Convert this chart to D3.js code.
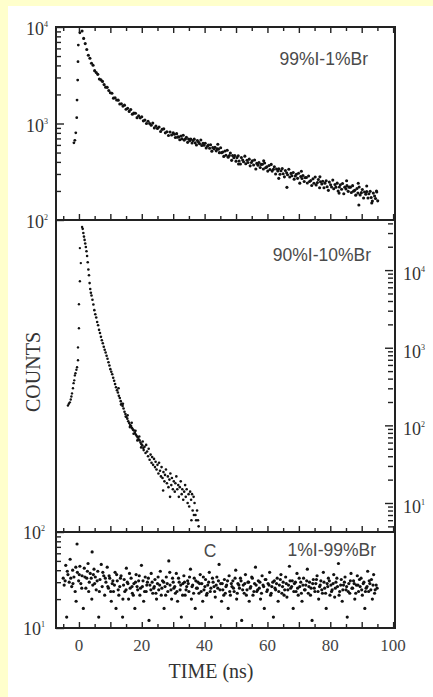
<!DOCTYPE html>
<html><head><meta charset="utf-8">
<script src="https://cdn.jsdelivr.net/npm/d3@7"></script>
<style>body{margin:0;background:#fff}svg{display:block}</style>
</head><body>
<svg id="c" width="433" height="697"></svg>
<script>
// ---------- data ----------
const xTickLabels = [0, 20, 40, 60, 80, 100];
const panelLabels = ["99%I-1%Br", "90%I-10%Br", "1%I-99%Br"];
const panel3Letter = "C";
const p1Exps = [4, 3, 2];
const p2Exps = [4, 3, 2, 1];
const p3Exps = [2, 1];

// panel 1 (99%I-1%Br): rising edge + decay [time ns, counts]
const p1Rise = [[-1.6,630],[-1.3,670],[-1.0,800],[-0.7,1150],[-0.6,1750],[-0.4,2820],[-0.3,4370],[-0.2,6500],[0.3,8700]];
const p1Decay = [
[1.0,9090],[1.5,7620],[2.0,6730],[2.5,5850],[3.0,5100],[3.5,4750],[4.0,4210],[4.5,4020],[5.0,3530],[5.5,3380],
[6.0,3230],[6.5,2890],[7.0,2830],[7.5,2730],[8.0,2530],[8.5,2380],[9.0,2370],[9.5,2200],[10.0,2080],[10.5,2060],
[11.0,1830],[11.5,1850],[12.0,1750],[12.5,1745],[13.0,1590],[13.5,1600],[14.0,1515],[14.5,1550],[15.0,1405],[15.5,1435],
[16.0,1335],[16.5,1395],[17.0,1250],[17.5,1280],[18.0,1275],[18.5,1150],[19.0,1205],[19.5,1145],[20.0,1175],[20.5,1065],
[21.0,1085],[21.5,1000],[22.0,1055],[22.5,1000],[23.0,960],[23.5,1010],[24.0,900],[24.5,940],[25.0,890],[25.5,920],
[26.0,825],[26.5,870],[27.0,880],[27.5,800],[28.0,820],[28.5,750],[29.0,815],[29.5,760],[30.0,800],
[30.4,773],[30.7,715],[31.1,785],[31.4,722],[31.8,729],[32.1,678],[32.5,742],[32.8,693],[33.2,756],[33.5,673],
[33.9,691],[34.2,721],[34.6,638],[34.9,690],[35.3,665],[35.6,689],[36.0,628],[36.3,665],[36.7,688],[37.0,630],
[37.4,598],[37.7,667],[38.1,638],[38.4,617],[38.8,675],[39.1,592],[39.5,623],[39.8,596],[40.2,625],[40.5,557],
[40.9,582],[41.2,597],[41.6,555],[41.9,602],[42.3,517],[42.6,564],[43.0,546],[43.3,568],[43.7,521],[44.0,546],
[44.4,542],[44.7,499],[45.1,560],[45.4,499],[45.8,507],[46.1,456],[46.5,518],[46.8,469],[47.2,529],[47.5,448],
[47.9,466],[48.2,494],[48.6,415],[48.9,465],[49.3,442],[49.6,465],[50.0,407],[50.3,443],[50.7,464],[51.0,409],
[51.4,380],[51.7,444],[52.1,419],[52.4,401],[52.8,459],[53.1,383],[53.5,416],[53.8,394],[54.2,427],[54.5,364],
[54.9,394],[55.2,411],[55.6,372],[55.9,419],[56.3,338],[56.6,386],[57.0,370],[57.3,394],[57.7,350],[58.0,377],
[58.4,378],[58.7,338],[59.1,389],[59.4,348],[59.8,355],[60.1,321],[60.5,367],[60.8,334],[61.2,377],[61.5,321],
[61.9,335],[62.2,356],[62.6,300],[62.9,338],[63.3,322],[63.6,339],[64.0,298],[64.3,324],[64.7,341],[65.0,301],
[65.4,280],[65.7,326],[66.1,308],[66.4,294],[66.8,336],[67.1,279],[67.5,304],[67.8,287],[68.2,311],[68.5,265],
[68.9,286],[69.2,298],[69.6,270],[69.9,305],[70.3,241],[70.6,282],[71.0,269],[71.3,289],[71.7,251],[72.0,275],
[72.4,276],[72.7,242],[73.1,286],[73.4,251],[73.8,257],[74.1,228],[74.5,268],[74.8,240],[75.2,279],[75.5,231],
[75.9,244],[76.2,263],[76.6,216],[76.9,249],[77.3,236],[77.6,252],[78.0,216],[78.3,241],[78.7,255],[79.0,221],
[79.4,203],[79.7,247],[80.1,232],[80.4,220],[80.8,259],[81.1,211],[81.5,233],[81.8,219],[82.2,241],[82.5,200],
[82.9,220],[83.2,232],[83.6,208],[83.9,239],[84.3,187],[84.6,219],[85.0,210],[85.3,227],[85.7,198],[86.0,219],
[86.4,219],[86.7,193],[87.1,227],[87.4,199],[87.8,203],[88.1,181],[88.5,212],[88.8,190],[89.2,220],[89.5,182],
[89.9,192],[90.2,207],[90.6,169],[90.9,195],[91.3,185],[91.6,197],[92.0,169],[92.3,187],[92.7,198],[93.0,171],
[93.4,157],[93.7,190],[94.1,177],[94.4,167],[94.8,195],[95.1,158],
[44.2,610],[50.8,380],[58.8,410],[63.6,270],[66.2,218],[70.8,320],[76.7,280],[82.8,190],[85.2,255],
[88.9,240],[89.1,143],[91.6,225],[93.2,150],[94.7,200]
];

// panel 2 (90%I-10%Br): rising edge + decay [time ns, counts]
const p2Rise = [[-3.5,180],[-3.2,190],[-2.9,198],[-2.6,215],[-2.4,235],[-2.2,258],[-1.9,300],[-1.7,350],[-1.5,380],
[-1.3,440],[-1.1,470],[-0.8,520],[-0.6,560],[-0.3,690],[-0.3,1010],[0.0,1780],[0.0,3630],[0.3,7200],[0.6,12300],[0.3,19200],[1.0,35900]];
const p2Decay = [
[1.2,34000],[1.4,30000],[1.6,27000],[1.8,24500],[2.0,22000],[2.2,19800],[2.4,17500],[2.6,15200],[2.8,12600],[3.0,10200],
[3.2,8600],[3.4,6800],[3.6,5700],[3.8,5100],[4.0,4700],[4.3,4150],[4.6,3600],[4.9,3050],[5.2,2700],[5.5,2450],
[5.8,2150],[6.1,1950],[6.4,1700],[6.7,1550],[7.0,1380],[7.3,1250],[7.6,1140],[7.9,1030],[8.2,940],[8.5,870],
[8.8,790],[9.1,720],[9.4,650],[9.7,590],[10.0,530],[10.3,490],[10.6,455],[10.9,410],[11.2,375],[11.5,340],
[11.8,310],[12.1,283],[12.4,265],[12.7,240],[13.0,225],[13.3,205],[13.6,190],[13.9,178],[14.2,165],[14.5,150],
[14.8,140],[15.1,128],[15.4,122],[15.7,113],[16.0,107],[16.3,101],[16.6,98],[16.9,92],[17.2,88],[17.5,86],
[17.8,80],[18.1,76],[18.4,73],[18.7,70],[19.0,66],[19.3,64],[19.6,60],[19.9,57],[20.2,55],[20.5,51],
[12.6,300],[13.4,185],[14.0,190],[14.9,130],[15.5,135],[16.2,95],[16.8,108],[17.4,78],[18.0,85],[18.6,64],[19.2,72],[19.8,52],
[20.3,62],[20.6,48],[20.9,53],[21.2,44],[21.4,56],[21.7,46],[22.0,40],[22.2,50],[22.5,36],[22.8,42],
[23.1,33],[23.3,39],[23.6,31],[23.9,37],[24.2,29],[24.4,34],[24.7,27],[25.0,31],[25.3,24],[25.5,33],
[25.8,26],[26.1,22],[26.3,29],[26.6,21],[26.9,25],[27.2,19],[27.4,23],[27.7,27],[28.0,18],[28.3,22],
[28.5,16],[28.8,20],[29.1,24],[29.4,17],[29.6,21],[29.9,15],[30.2,19],[30.5,14],[30.7,18],[31.0,22],
[31.3,15],[31.6,17],[31.8,12],[32.1,16],[32.4,19],[32.7,13],[32.9,15],[33.2,11],[33.5,14],[33.8,17],
[34.0,12],[34.3,15],[34.6,10],[34.9,13],[35.1,9],[35.4,14],[35.7,11],[36.0,13],[36.2,8],[36.5,12],
[36.8,10],[37.1,7],[37.3,6],[37.6,8],[37.9,6],[38.1,5],[36.6,7],[35.8,6],[26.8,14.5],[29.0,12]
];

// panel 3 (1%I-99%Br): [time ns, counts]
const p3Data = [
[-5.0,33],[-4.7,28],[-4.2,45],[-3.9,13],[-3.5,36],[-3.1,30],[-2.8,52],[-2.3,27],[-2.0,40],[-1.6,34],
[-1.2,24],[-0.9,19],[-0.5,38],[-0.1,31],[0.3,44],[0.6,29],[1.0,35],[1.4,16],[1.7,42],[2.2,26],
[2.5,33],[2.9,47],[3.3,30],[3.6,37],[4.1,20],[4.4,28],[4.8,41],[5.2,34],[5.5,25],[6.0,39],
[6.3,13],[6.7,32],[7.1,46],[7.4,27],[7.9,35],[8.2,22],[8.6,30],[9.0,43],[-0.6,75],[4.2,62],
[9.4,26],[9.8,33],[10.3,19],[10.6,29],[11.0,24],[11.5,38],[11.8,16],[12.2,31],[12.7,22],[13.0,27],
[13.4,35],[13.9,13],[14.2,28],[14.6,24],[15.1,42],[15.4,30],[15.8,20],[16.3,26],[16.6,33],[17.0,23],
[17.5,29],[17.8,16],[18.2,36],[18.7,25],[19.0,31],[19.4,22],[19.9,45],[20.2,27],[20.6,19],[21.1,34],
[21.4,24],[21.8,30],[22.3,12],[22.6,28],[23.0,37],[23.5,23],[23.8,26],[24.2,32],[24.7,20],[25.0,29],
[25.4,25],[25.9,39],[26.2,22],[26.6,31],[27.1,16],[27.4,27],[27.8,34],[28.3,24],[28.6,50],[29.0,28],
[29.5,20],[29.8,33],[30.2,26],[30.7,23],[31.0,37],[31.4,19],[31.9,30],[32.2,25],[32.6,13],[33.1,29],
[33.4,35],[33.8,22],[34.3,27],[34.6,31],[35.0,24],[35.5,41],[35.8,20],[36.2,28],[36.7,33],[37.0,16],
[37.4,26],[37.9,30],[38.2,23],[38.6,36],[39.1,29],[39.4,19],[39.8,25],[40.3,32],[40.6,22],[41.0,28],
[41.5,38],[41.8,24],[42.2,13],[42.7,30],[43.0,27],[43.4,21],[43.9,34],[44.2,26],[44.6,46],[45.1,29],
[45.4,19],[45.8,25],[46.3,32],[46.6,23],[47.0,28],[47.5,16],[47.8,35],[48.2,22],[48.7,27],[49.0,31],
[49.4,24],[49.9,40],[50.2,20],[50.6,29],[51.1,26],[51.4,33],[51.8,12],[52.3,28],[52.6,23],[53.0,36],
[53.5,25],[53.8,30],[54.2,19],[54.7,27],[55.0,34],[55.4,22],[55.9,29],[56.2,43],[56.6,24],[57.1,31],
[57.4,26],[57.8,20],[58.3,35],[58.6,28],[59.0,16],[59.5,32],[59.8,24],[60.2,29],[60.7,38],[61.0,22],
[61.4,27],[61.9,13],[62.2,31],[62.6,25],[63.1,33],[63.4,19],[63.8,28],[64.3,36],[64.6,23],[65.0,30],
[65.5,25],[65.8,34],[66.2,21],[66.7,28],[67.0,44],[67.4,26],[67.9,31],[68.2,16],[68.6,29],[69.1,24],
[69.4,37],[69.8,22],[70.3,27],[70.6,30],[71.0,19],[71.5,33],[71.8,25],[72.2,28],[72.7,41],[73.0,23],
[73.4,30],[73.9,26],[74.2,12],[74.6,32],[75.1,24],[75.4,29],[75.8,35],[76.3,20],[76.6,27],[77.0,31],
[77.5,23],[77.8,38],[78.2,26],[78.7,16],[79.0,29],[79.4,33],[79.9,22],[80.2,28],[80.6,25],[81.1,36],
[81.4,21],[81.8,30],[82.3,27],[82.6,47],[83.0,24],[83.5,32],[83.8,19],[84.2,28],[84.7,34],[85.0,25],
[85.4,13],[85.9,29],[86.2,23],[86.6,37],[87.1,26],[87.4,31],[87.8,20],[88.3,28],[88.6,35],[89.0,24],
[89.5,27],[89.8,33],[90.2,22],[90.7,30],[91.0,16],[91.4,26],[91.9,39],[92.2,24],[92.6,29],[93.1,32],
[93.4,20],[93.8,36],[94.3,25],[94.6,28]
];
const p3Extra = [
[-4.4,31],[-3.7,39],[-2.6,33],[-1.9,29],[-1.0,43],[0.1,36],[0.9,26],[1.9,34],[2.7,39],[3.1,24],
[3.9,33],[4.6,36],[5.0,29],[5.8,31],[6.5,24],[7.6,38],[8.4,33],[9.2,27],[9.6,35],[10.1,24],
[10.8,31],[11.3,28],[12.0,36],[12.5,25],[13.2,33],[14.0,20],[14.4,32],[15.0,25],[15.6,29],[16.1,37],
[16.9,27],[17.3,22],[18.0,30],[18.5,27],[19.2,35],[19.6,26],[20.4,31],[20.9,24],[21.6,28],[22.1,33],
[22.9,25],[23.3,30],[24.0,27],[24.5,23],[25.2,34],[25.7,28],[26.4,26],[27.0,30],[27.6,22],[28.1,29],
[28.9,38],[29.3,25],[30.0,30],[30.5,27],[31.2,24],[31.7,33],[32.4,28],[33.0,22],[33.6,30],[34.1,25],
[34.8,29],[35.2,34],[36.0,27],[36.5,23],[37.2,31],[37.7,26],[38.4,29],[38.9,24],[39.6,34],[40.1,27],
[40.8,23],[41.3,30],[42.0,26],[42.5,33],[43.2,24],[43.7,28],[44.4,31],[44.9,25],[45.6,29],[46.1,22],
[46.8,27],[47.3,31],[48.0,24],[48.5,29],[49.2,26],[49.7,33],[50.4,23],[50.9,28],[51.6,31],[52.1,25],
[52.8,29],[53.3,22],[54.0,30],[54.5,26],[55.2,33],[55.7,24],[56.4,28],[56.9,25],[57.6,30],[58.1,23],
[58.8,27],[59.3,32],[60.0,25],[60.5,28],[61.2,23],[61.7,30],[62.4,26],[62.9,29],[63.6,24],[64.1,32],
[64.8,27],[65.3,22],[66.0,29],[66.5,25],[67.2,31],[67.7,27],[68.4,24],[68.9,30],[69.6,26],[70.1,33],
[70.8,23],[71.3,28],[72.0,25],[72.5,31],[73.2,27],[73.7,22],[74.4,29],[74.9,26],[75.6,32],[76.1,24],
[76.8,28],[77.3,25],[78.0,30],[78.5,23],[79.2,27],[79.7,31],[80.4,24],[80.9,29],[81.6,26],[82.1,33],
[82.8,22],[83.3,28],[84.0,25],[84.5,30],[85.2,27],[85.7,24],[86.4,31],[86.9,26],[87.6,29],[88.1,23],
[88.8,28],[89.3,32],[90.0,25],[90.5,29],[91.2,24],[91.7,27],[92.4,31],[92.9,25],[93.6,28],[94.1,23],[94.9,26]
];

// ---------- drawing ----------
const svg = d3.select("#c");
svg.append("rect").attr("width", 433).attr("height", 697).attr("fill", "#ffffcc");
svg.append("rect").attr("x", 8).attr("y", 6).attr("width", 425).attr("height", 691).attr("fill", "#fff");

const L = 56, R = 395;
const x = d3.scaleLinear().domain([-7.3, 100.6]).range([L, R]);
const y1 = d3.scaleLog().domain([100, 10000]).range([220, 27]);
const y2 = d3.scaleLog().domain([4.23, 44200]).range([532, 220]);
const y3 = d3.scaleLog().domain([10, 100]).range([628, 532]);

const xMinor = d3.range(-5, 101, 5).filter(v => v % 10 !== 0);
const xMajor = d3.range(0, 101, 10);

function logMinors(scale) {
  const [a, b] = scale.domain();
  const out = [];
  for (let e = Math.floor(Math.log10(a)); e <= Math.ceil(Math.log10(b)); e++)
    for (let m = 2; m <= 9; m++) { const v = m * Math.pow(10, e); if (v > a && v < b) out.push(v); }
  return out;
}
function logMajors(scale) {
  const [a, b] = scale.domain();
  const out = [];
  for (let e = Math.ceil(Math.log10(a)); e <= Math.floor(Math.log10(b)); e++) out.push(Math.pow(10, e));
  return out;
}

function styleAxis(g) {
  g.select(".domain").remove();
  g.selectAll(".tick line").attr("stroke", "#222").attr("stroke-width", 1.4);
  g.selectAll(".tick text").remove();
}
function xTicks(yPos, dir) {
  const mk = dir === "down" ? d3.axisTop : d3.axisBottom;
  svg.append("g").attr("transform", `translate(0,${yPos})`)
    .call(mk(x).tickValues(xMinor).tickSize(-4).tickFormat("")).call(styleAxis);
  svg.append("g").attr("transform", `translate(0,${yPos})`)
    .call(mk(x).tickValues(xMajor).tickSize(-6).tickFormat("")).call(styleAxis);
}
function yTicks(scale, xPos, side) {
  const mk = side === "left" ? d3.axisLeft : d3.axisRight;
  svg.append("g").attr("transform", `translate(${xPos},0)`)
    .call(mk(scale).tickValues(logMinors(scale)).tickSize(-5).tickFormat("")).call(styleAxis);
  svg.append("g").attr("transform", `translate(${xPos},0)`)
    .call(mk(scale).tickValues(logMajors(scale)).tickSize(-8).tickFormat("")).call(styleAxis);
}

xTicks(27, "down");
xTicks(220, "up");
xTicks(532, "up");
xTicks(628, "up");
yTicks(y1, L, "left");
yTicks(y2, 393, "right");
yTicks(y3, L, "left");

function frame(top, bottom) {
  svg.append("rect").attr("x", L).attr("y", top).attr("width", R - L).attr("height", bottom - top)
    .attr("fill", "none").attr("stroke", "#222").attr("stroke-width", 2);
}
frame(27, 220);
frame(220, 532);
frame(532, 628);

function dots(data, ys, r) {
  svg.append("g").selectAll("circle").data(data).join("circle")
    .attr("cx", d => x(d[0])).attr("cy", d => ys(d[1])).attr("r", r).attr("fill", "#111");
}
dots(p1Rise, y1, 1.4);
dots(p1Decay, y1, 1.55);
dots(p2Rise, y2, 1.2);
dots(p2Decay, y2, 1.3);
dots(p3Data, y3, 1.6);
dots(p3Extra, y3, 1.6);

function powLabel(px, py, exp, anchor) {
  const t = svg.append("text").attr("x", px).attr("y", py).attr("text-anchor", anchor)
    .attr("font-family", "'Liberation Serif','DejaVu Serif',serif").attr("font-size", 18).attr("fill", "#333");
  t.append("tspan").text("10");
  t.append("tspan").attr("font-size", 8).attr("dy", -8).text(exp);
}
p1Exps.forEach(e => powLabel(48, y1(Math.pow(10, e)) + 8, e, "end"));
p3Exps.forEach(e => powLabel(45, y3(Math.pow(10, e)) + 7, e, "end"));
p2Exps.forEach(e => powLabel(403, y2(Math.pow(10, e)) + 10, e, "start"));

svg.append("g").selectAll("text").data(xTickLabels).join("text")
  .attr("x", d => x(d)).attr("y", 651).attr("text-anchor", "middle")
  .attr("font-family", "'Liberation Serif','DejaVu Serif',serif").attr("font-size", 17).attr("fill", "#444")
  .text(d => d);

const lab = (tx, ty, s, anchor) => svg.append("text").attr("x", tx).attr("y", ty).attr("text-anchor", anchor || "end")
  .attr("font-family", "'Liberation Sans',Arial,sans-serif").attr("font-size", 17.5).attr("fill", "#4a4a4a").text(s);
lab(368, 65, panelLabels[0]);
lab(371, 261, panelLabels[1]);
lab(376, 556, panelLabels[2]);
lab(210, 557, panel3Letter, "middle");

svg.append("text").attr("transform", "translate(40,372) rotate(-90)").attr("text-anchor", "middle")
  .attr("font-family", "'Liberation Serif','DejaVu Serif',serif").attr("font-size", 20).attr("fill", "#333").text("COUNTS");
svg.append("text").attr("x", 211).attr("y", 678).attr("text-anchor", "middle")
  .attr("font-family", "'Liberation Serif','DejaVu Serif',serif").attr("font-size", 20).attr("fill", "#333").text("TIME (ns)");
</script>
</body></html>
